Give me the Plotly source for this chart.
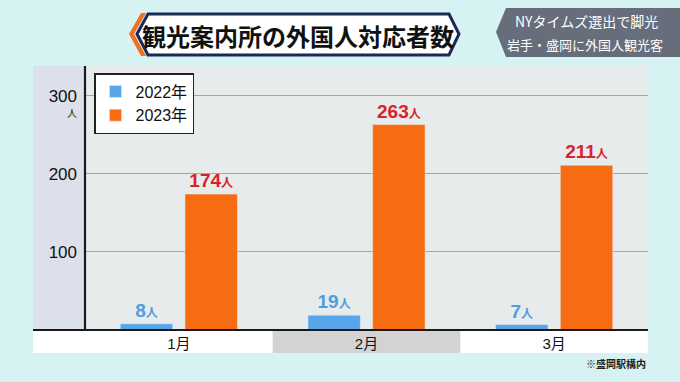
import plotly.graph_objects as go

months = ["1月", "2月", "3月"]
series_names = ["2022年", "2023年"]
v2022 = [8, 19, 7]
v2023 = [174, 263, 211]
y_ticks = [100, 200, 300]

W, H = 680, 382
L, R, T, B = 85, 648, 66, 330


def PX(x):
    return (x - L) / (R - L)


def PY(y):
    return (B - y) / (B - T)


FONT = "Liberation Sans, Noto Sans CJK JP, sans-serif"
JP = "Noto Sans CJK JP, sans-serif"
BLUE = "#58a6ea"
ORANGE = "#f76c12"

fig = go.Figure()
fig.add_trace(go.Bar(
    x=months, y=v2022, name=series_names[0], marker_color=BLUE,
    texttemplate="<b>%{y}</b><span style='font-size:12px'><b>人</b></span>",
    textposition="outside", cliponaxis=False, constraintext="none",
    textfont=dict(family=FONT, size=19, color="#4f9ee0"),
))
fig.add_trace(go.Bar(
    x=months, y=v2023, name=series_names[1], marker_color=ORANGE,
    texttemplate="<b>%{y}</b><span style='font-size:12px'><b>人</b></span>",
    textposition="outside", cliponaxis=False, constraintext="none",
    textfont=dict(family=FONT, size=19, color="#d8232b"),
))
# tick dots on the y axis
fig.add_trace(go.Scatter(
    x=[-0.5] * len(y_ticks), y=y_ticks, mode="markers",
    marker=dict(color="#111", size=5), showlegend=False, cliponaxis=False,
    hoverinfo="skip",
))

shapes = []
# panel: y-axis column
shapes.append(dict(type="rect", xref="paper", yref="paper", x0=PX(33), x1=PX(85),
                   y0=PY(330), y1=PY(66), fillcolor="#dbe0ea", line_width=0, layer="below"))
# category strip
shapes.append(dict(type="rect", xref="paper", yref="paper", x0=PX(33), x1=PX(648),
                   y0=PY(353), y1=PY(330), fillcolor="#ffffff", line_width=0, layer="below"))
shapes.append(dict(type="rect", xref="x", yref="paper", x0=0.5, x1=1.5,
                   y0=PY(353), y1=PY(330), fillcolor="#d3d3d3", line_width=0, layer="below"))
# baseline
shapes.append(dict(type="line", xref="paper", yref="paper", x0=PX(33), x1=PX(648),
                   y0=0, y1=0, line=dict(color="#1a1a1a", width=2.2)))
# y axis line
shapes.append(dict(type="line", xref="paper", yref="paper", x0=0, x1=0,
                   y0=0, y1=1, line=dict(color="#1a1a1a", width=2.2)))
# title banner
orange_path = (f"M {PX(146)},{PY(13)} L {PX(134)},{PY(34)} L {PX(146)},{PY(56)} "
               f"L {PX(141)},{PY(56)} L {PX(129)},{PY(34)} L {PX(141)},{PY(13)} Z")
shapes.append(dict(type="path", xref="paper", yref="paper", path=orange_path,
                   fillcolor="#f07020", line_width=0))
banner = (f"M {PX(137)},{PY(34)} L {PX(148)},{PY(14)} L {PX(449)},{PY(14)} "
          f"L {PX(459)},{PY(34)} L {PX(449)},{PY(55)} L {PX(148)},{PY(55)} Z")
shapes.append(dict(type="path", xref="paper", yref="paper", path=banner,
                   fillcolor="#ffffff", line=dict(color="#1c2858", width=3)))
# top-right box
box = (f"M {PX(496)},{PY(32)} L {PX(506)},{PY(8)} L {PX(680)},{PY(8)} "
       f"L {PX(680)},{PY(57)} L {PX(506)},{PY(57)} Z")
shapes.append(dict(type="path", xref="paper", yref="paper", path=box,
                   fillcolor="#666e7b", line_width=0))


def ann(text, x, y, size, color, family=JP, xanchor="center"):
    return dict(text=text, xref="paper", yref="paper", x=PX(x), y=PY(y),
                xanchor=xanchor, yanchor="middle", showarrow=False,
                font=dict(family=family, size=size, color=color))


annotations = [
    ann("<b>観光案内所の外国人対応者数</b>", 298, 35, 24, "#111"),
    ann("NYタイムズ選出で脚光", 586, 21, 14, "#ffffff"),
    ann("岩手・盛岡に外国人観光客", 585, 44, 13, "#ffffff"),
    ann("人", 72, 113, 10, "#222"),
    ann("<b>※盛岡駅構内</b>", 648, 363, 10, "#222", xanchor="right"),
]

fig.update_layout(
    width=W, height=H,
    margin=dict(l=L, r=W - R, t=T, b=H - B, pad=0),
    paper_bgcolor="#d6f2f3",
    plot_bgcolor="#e7ebeb",
    barmode="group", bargap=0.31, bargroupgap=0.19,
    font=dict(family=FONT, color="#111"),
    shapes=shapes, annotations=annotations,
    legend=dict(x=PX(94), y=PY(73), xanchor="left", yanchor="top",
                bgcolor="#ffffff", bordercolor="#222", borderwidth=1.5,
                font=dict(family=FONT, size=16, color="#111"),
                itemwidth=30, tracegroupgap=0),
    xaxis=dict(range=[-0.5, 2.5], showgrid=False, zeroline=False, showline=False,
               ticks="", tickfont=dict(family=FONT, size=15, color="#111"),
               ticklabelstandoff=3, fixedrange=True),
    yaxis=dict(range=[0, 338], tickvals=y_ticks, showgrid=True, gridcolor="#a3a5a6",
               gridwidth=1, zeroline=False, showline=False, ticks="",
               tickfont=dict(family=FONT, size=17, color="#111"),
               ticklabelstandoff=7, fixedrange=True),
    showlegend=True,
)

fig.write_html("out.html", config={"displayModeBar": False},
               post_script="document.body.style.margin='0';document.body.style.overflow='hidden';")
